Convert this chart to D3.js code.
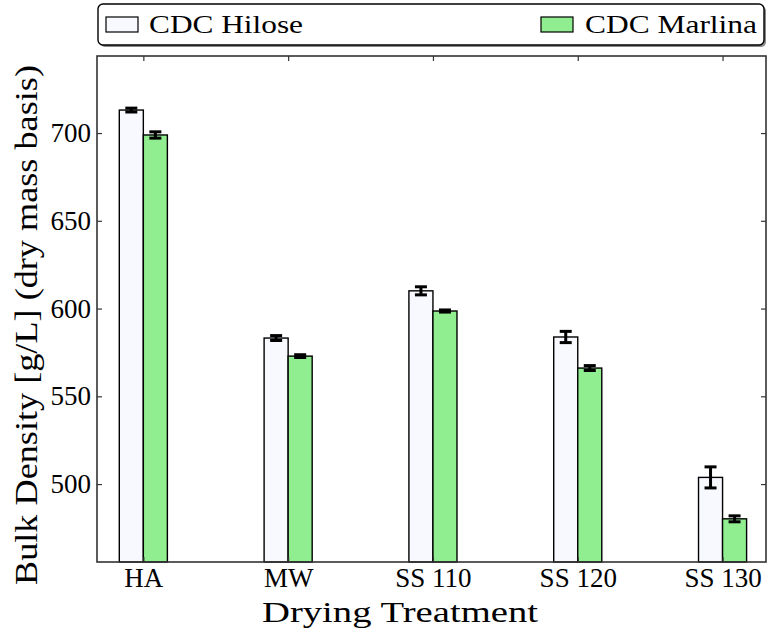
<!DOCTYPE html>
<html>
<head>
<meta charset="utf-8">
<script src="https://cdn.jsdelivr.net/npm/d3@7"></script>
<style>
  body { margin: 0; background: #fff; }
  text { font-family: "Liberation Serif", "Times New Roman", serif; fill: #000; }
</style>
</head>
<body>
<script>
// drying treatments and the two cultivars
var treatments = ["HA", "MW", "SS 110", "SS 120", "SS 130"];
var seriesNames = ["CDC Hilose", "CDC Marlina"];
var seriesColors = ["#f8f8ff", "#90ee90"];

// bulk density means and std errors [g/L]
var hiloseMeans = [713.1, 583.2, 610.1, 583.8, 503.8];
var hiloseErr = [1.1, 1.4, 2.3, 3.2, 6.0];
var marlinaMeans = [698.9, 572.9, 598.6, 566.1, 480.2];
var marlinaErr = [1.8, 0.8, 0.6, 1.4, 1.7];

var yTicks = [500, 550, 600, 650, 700];

var width = 767, height = 631;
var frame = { left: 97, right: 766, top: 56, bottom: 562 };
var barW = 0.166;

var svg = d3.select("body").append("svg")
    .attr("width", width)
    .attr("height", height);

var x = d3.scaleLinear()
    .domain([-0.32, 4.30])
    .range([frame.left, frame.right]);

var y = d3.scaleLinear()
    .domain([455.6, 743.9])
    .range([frame.bottom, frame.top]);

var series = [
  { name: seriesNames[0], means: hiloseMeans, err: hiloseErr, color: seriesColors[0], off: -barW },
  { name: seriesNames[1], means: marlinaMeans, err: marlinaErr, color: seriesColors[1], off: 0 }
];

// bars
series.forEach(function(s) {
  svg.append("g").selectAll("rect")
    .data(s.means)
    .enter().append("rect")
      .attr("x", function(d, i) { return x(i + s.off); })
      .attr("y", function(d) { return y(d); })
      .attr("width", x(barW) - x(0))
      .attr("height", function(d) { return frame.bottom - y(d); })
      .style("fill", s.color)
      .style("stroke", "#000")
      .style("stroke-width", 1.4);
});

// error bars
series.forEach(function(s) {
  var g = svg.append("g");
  s.means.forEach(function(m, i) {
    var cx = x(i + s.off + barW / 2);
    g.append("line")
      .attr("x1", cx).attr("x2", cx)
      .attr("y1", y(m - s.err[i])).attr("y2", y(m + s.err[i]))
      .style("stroke", "#000").style("stroke-width", 3);
    [m - s.err[i], m + s.err[i]].forEach(function(v) {
      g.append("line")
        .attr("x1", cx - 6).attr("x2", cx + 6)
        .attr("y1", y(v)).attr("y2", y(v))
        .style("stroke", "#000").style("stroke-width", 3);
    });
  });
});

// axes with inward ticks on all four sides
var axisLeft = d3.axisLeft(y).tickValues(yTicks).tickSizeInner(-5).tickSizeOuter(0).tickPadding(6);
var axisRight = d3.axisRight(y).tickValues(yTicks).tickSizeInner(-5).tickSizeOuter(0).tickFormat("");
var axisBottom = d3.axisBottom(x).tickValues(d3.range(treatments.length))
    .tickSizeInner(-5).tickSizeOuter(0).tickPadding(6)
    .tickFormat(function(d) { return treatments[d]; });
var axisTop = d3.axisTop(x).tickValues(d3.range(treatments.length))
    .tickSizeInner(-5).tickSizeOuter(0).tickFormat("");

var gl = svg.append("g").attr("transform", "translate(" + frame.left + ",0)").call(axisLeft);
var gr = svg.append("g").attr("transform", "translate(" + frame.right + ",0)").call(axisRight);
var gb = svg.append("g").attr("transform", "translate(0," + frame.bottom + ")").call(axisBottom);
var gt = svg.append("g").attr("transform", "translate(0," + frame.top + ")").call(axisTop);

[gl, gr, gb, gt].forEach(function(g) {
  g.select(".domain").remove();
  g.selectAll(".tick line").style("stroke", "#333").style("stroke-width", 1.2);
  g.selectAll(".tick text").style("font-size", "27px").style("font-family", "Liberation Serif");
});

// frame
svg.append("rect")
  .attr("x", frame.left).attr("y", frame.top)
  .attr("width", frame.right - frame.left)
  .attr("height", frame.bottom - frame.top)
  .style("fill", "none")
  .style("stroke", "#333")
  .style("stroke-width", 1.6);

// axis labels
svg.append("text")
  .attr("x", 262)
  .attr("y", 622)
  .attr("textLength", 276)
  .attr("lengthAdjust", "spacingAndGlyphs")
  .style("font-size", "30px")
  .text("Drying Treatment");

svg.append("text")
  .attr("transform", "translate(37,585) rotate(-90)")
  .attr("textLength", 520)
  .attr("lengthAdjust", "spacingAndGlyphs")
  .style("font-size", "31px")
  .text("Bulk Density [g/L] (dry mass basis)");

// legend with shadow
var leg = { x: 98, y: 4, w: 666, h: 41 };
svg.append("rect")
  .attr("x", leg.x + 2).attr("y", leg.y + 2)
  .attr("width", leg.w).attr("height", leg.h)
  .attr("rx", 5)
  .style("fill", "#888");
svg.append("rect")
  .attr("x", leg.x).attr("y", leg.y)
  .attr("width", leg.w).attr("height", leg.h)
  .attr("rx", 5)
  .style("fill", "#fff")
  .style("stroke", "#000")
  .style("stroke-width", 1.4);

var legItems = [
  { patchX: 106, textX: 149, textW: 154 },
  { patchX: 541, textX: 585, textW: 172 }
];
legItems.forEach(function(it, i) {
  svg.append("rect")
    .attr("x", it.patchX).attr("y", 17)
    .attr("width", 32).attr("height", 15)
    .style("fill", seriesColors[i])
    .style("stroke", "#000")
    .style("stroke-width", 1.2);
  svg.append("text")
    .attr("x", it.textX).attr("y", 33)
    .attr("textLength", it.textW)
    .attr("lengthAdjust", "spacingAndGlyphs")
    .style("font-size", "26px")
    .text(seriesNames[i]);
});
</script>
</body>
</html>
